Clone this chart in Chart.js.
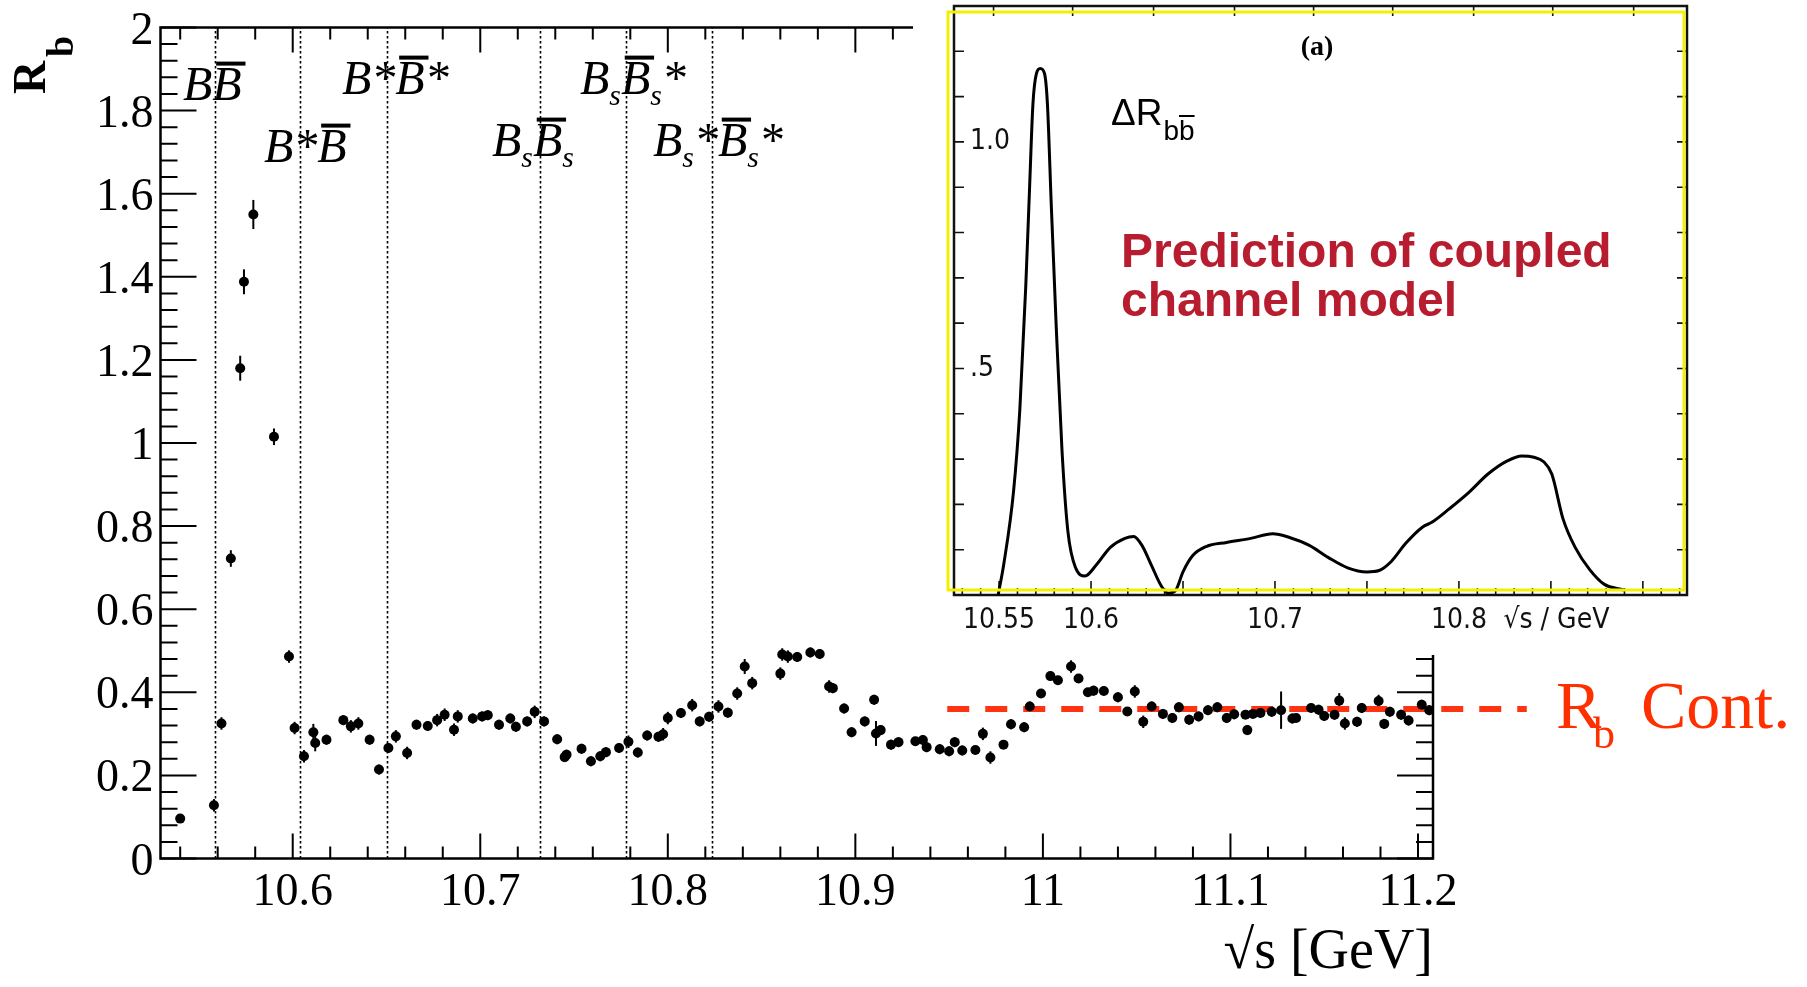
<!DOCTYPE html>
<html>
<head>
<meta charset="utf-8">
<script src="https://cdn.jsdelivr.net/npm/chart.js@4.4.1/dist/chart.umd.min.js"></script>
<style>
  html, body { margin: 0; padding: 0; background: #fff; }
  #wrap { position: relative; width: 1807px; height: 987px; overflow: hidden; }
  #mainChart { position: absolute; left: 0; top: 0; }
  #insetChart { position: absolute; left: 913px; top: 0; background: #fff; }
</style>
</head>
<body>
<div id="wrap">
  <canvas id="mainChart" width="1807" height="987"></canvas>
  <canvas id="insetChart" width="787" height="655"></canvas>
</div>
<script>
// measured R_b scan
const energies = [
  10.540, 10.558, 10.562, 10.567, 10.572, 10.574, 10.579, 10.590, 10.598, 10.601,
  10.606, 10.611, 10.612, 10.618, 10.627, 10.631, 10.635, 10.641, 10.646, 10.651,
  10.655, 10.661, 10.666, 10.672, 10.677, 10.681, 10.686, 10.688, 10.696, 10.701,
  10.704, 10.710, 10.716, 10.719, 10.725, 10.729, 10.734, 10.741, 10.745, 10.746,
  10.754, 10.759, 10.764, 10.767, 10.774, 10.779, 10.784, 10.789, 10.795, 10.7975,
  10.800, 10.807, 10.813, 10.817, 10.822, 10.827, 10.832, 10.837, 10.841, 10.845,
  10.860, 10.861, 10.864, 10.869, 10.876, 10.881, 10.886, 10.888, 10.894, 10.898,
  10.905, 10.910, 10.911, 10.9135, 10.919, 10.923, 10.932, 10.936, 10.938, 10.945,
  10.950, 10.953, 10.957, 10.964, 10.968, 10.972, 10.979, 10.983, 10.990, 10.993,
  10.999, 11.004, 11.008, 11.015, 11.019, 11.024, 11.027, 11.0325, 11.040, 11.045,
  11.049, 11.0535, 11.058, 11.064, 11.069, 11.0725, 11.078, 11.083, 11.088, 11.093,
  11.098, 11.102, 11.108, 11.109, 11.112, 11.116, 11.122, 11.127, 11.133, 11.135,
  11.143, 11.147, 11.150, 11.1555, 11.158, 11.161, 11.1675, 11.170, 11.179, 11.182,
  11.185, 11.191, 11.195, 11.202, 11.206
];
const rb = [
  0.096, 0.128, 0.325, 0.722, 1.180, 1.388, 1.550, 1.015, 0.486, 0.314,
  0.246, 0.304, 0.278, 0.286, 0.333, 0.318, 0.325, 0.286, 0.214, 0.266,
  0.294, 0.254, 0.322, 0.319, 0.333, 0.346, 0.310, 0.342, 0.337, 0.342,
  0.345, 0.322, 0.337, 0.317, 0.330, 0.353, 0.330, 0.287, 0.244, 0.250,
  0.264, 0.234, 0.246, 0.256, 0.266, 0.281, 0.255, 0.296, 0.293, 0.299,
  0.338, 0.350, 0.369, 0.330, 0.341, 0.366, 0.351, 0.397, 0.462, 0.422,
  0.445, 0.491, 0.486, 0.485, 0.496, 0.492, 0.414, 0.410, 0.361, 0.304,
  0.330, 0.382, 0.301, 0.309, 0.274, 0.280, 0.282, 0.285, 0.268, 0.263,
  0.258, 0.280, 0.260, 0.261, 0.300, 0.243, 0.274, 0.323, 0.316, 0.366,
  0.397, 0.439, 0.429, 0.462, 0.433, 0.400, 0.404, 0.403, 0.388, 0.354,
  0.402, 0.329, 0.366, 0.348, 0.338, 0.364, 0.334, 0.342, 0.357, 0.364,
  0.338, 0.347, 0.346, 0.309, 0.348, 0.350, 0.353, 0.357, 0.337, 0.338,
  0.362, 0.358, 0.343, 0.346, 0.380, 0.325, 0.329, 0.362, 0.379, 0.324,
  0.353, 0.346, 0.332, 0.370, 0.357
];
const rbErr = [
  0.008, 0.015, 0.015, 0.020, 0.030, 0.030, 0.035, 0.020, 0.015, 0.015,
  0.015, 0.020, 0.020, 0.012, 0.012, 0.015, 0.015, 0.012, 0.012, 0.012,
  0.015, 0.015, 0.012, 0.012, 0.015, 0.015, 0.015, 0.015, 0.012, 0.012,
  0.012, 0.012, 0.012, 0.012, 0.012, 0.015, 0.012, 0.012, 0.012, 0.012,
  0.012, 0.012, 0.012, 0.012, 0.012, 0.015, 0.012, 0.012, 0.012, 0.015,
  0.015, 0.012, 0.015, 0.012, 0.012, 0.015, 0.012, 0.015, 0.018, 0.015,
  0.015, 0.015, 0.015, 0.012, 0.012, 0.012, 0.015, 0.012, 0.012, 0.012,
  0.012, 0.012, 0.030, 0.012, 0.012, 0.012, 0.010, 0.012, 0.012, 0.012,
  0.012, 0.012, 0.012, 0.010, 0.015, 0.015, 0.010, 0.012, 0.012, 0.012,
  0.010, 0.010, 0.010, 0.015, 0.010, 0.010, 0.012, 0.010, 0.012, 0.010,
  0.015, 0.015, 0.012, 0.012, 0.012, 0.012, 0.012, 0.012, 0.012, 0.012,
  0.012, 0.012, 0.010, 0.012, 0.010, 0.010, 0.012, 0.045, 0.012, 0.010,
  0.010, 0.012, 0.012, 0.012, 0.018, 0.015, 0.012, 0.012, 0.015, 0.012,
  0.012, 0.012, 0.012, 0.012, 0.012
];
const xTicks = [10.6, 10.7, 10.8, 10.9, 11.0, 11.1, 11.2];
const yTicks = [0, 0.2, 0.4, 0.6, 0.8, 1.0, 1.2, 1.4, 1.6, 1.8, 2.0];
const thresholds = [10.5586, 10.6041, 10.6501, 10.7318, 10.7776, 10.8236];
const contLevel = 0.36;
const contRange = [10.949, 11.258];

// coupled channel prediction (inset)
const insetX = [
  10.5495, 10.5526, 10.5579, 10.5613, 10.5645, 10.5666, 10.5684, 10.5703, 10.5724, 10.5747,
  10.5763, 10.5784, 10.5811, 10.5842, 10.5874, 10.5916, 10.5968, 10.6026, 10.6105, 10.6184,
  10.6232, 10.6276, 10.6329, 10.6382, 10.6421, 10.6461, 10.6500, 10.6553, 10.6626, 10.6737,
  10.6868, 10.6987, 10.7079, 10.7184, 10.7289, 10.7395, 10.7500, 10.7566, 10.7632, 10.7711,
  10.7803, 10.7855, 10.7947, 10.8053, 10.8158, 10.8263, 10.8342, 10.8408, 10.8461, 10.8505,
  10.8566, 10.8632, 10.8711, 10.8789, 10.8895
];
const insetY = [
  0.000, 0.069, 0.230, 0.410, 0.680, 0.900, 1.083, 1.151, 1.162, 1.151,
  1.083, 0.859, 0.590, 0.320, 0.141, 0.060, 0.042, 0.065, 0.105, 0.125,
  0.129, 0.110, 0.065, 0.020, 0.004, 0.011, 0.051, 0.087, 0.107, 0.116,
  0.125, 0.135, 0.127, 0.110, 0.083, 0.060, 0.051, 0.054, 0.074, 0.114,
  0.150, 0.161, 0.190, 0.226, 0.267, 0.296, 0.307, 0.304, 0.294, 0.267,
  0.168, 0.105, 0.056, 0.024, 0.011
];
const insetXTicks = [10.55, 10.6, 10.7, 10.8, 10.853];
const insetXTickLabels = ['10.55', '10.6', '10.7', '10.8', '√s / GeV'];
const insetYTicks = [0.5, 1.0];
const insetYTickLabels = ['.5', '1.0'];
const insetTopTicks = [10.547, 10.590, 10.634, 10.678, 10.721, 10.764, 10.808, 10.851, 10.895];

const serif = "'Liberation Serif', 'Times New Roman', serif";
const sans = "'Liberation Sans', Arial, sans-serif";
const narrow = "'Liberation Sans Narrow', 'DejaVu Sans Condensed', 'Liberation Sans', sans-serif";
const fmt = v => String(Math.round(v * 10) / 10);

// no automatic edge padding from the axes, chart area follows layout.padding
const noPad = s => { s.paddingTop = 0; s.paddingBottom = 0; s.paddingLeft = 0; s.paddingRight = 0; };

// draw a label made of pieces: plain, subscript, overlined
function drawRich(ctx, x, y, segs, size, style) {
  segs.forEach(s => {
    const fs = s.sub ? size * 0.62 : size;
    ctx.font = `${style} ${fs}px ${serif}`;
    const dy = s.sub ? size * 0.22 : 0;
    ctx.fillText(s.t, x, y + dy);
    const w = ctx.measureText(s.t).width;
    if (s.bar) ctx.fillRect(x + size * 0.08, y - size * 0.8, w, 4);
    x += w;
  });
}

const thresholdLabels = [
  { x: 183, y: 100, segs: [{t: 'B'}, {t: 'B', bar: 1}] },
  { x: 264, y: 162, segs: [{t: 'B*'}, {t: 'B', bar: 1}] },
  { x: 342, y: 94, segs: [{t: 'B*'}, {t: 'B', bar: 1}, {t: '*'}] },
  { x: 492, y: 156, segs: [{t: 'B'}, {t: 's', sub: 1}, {t: 'B', bar: 1}, {t: 's', sub: 1}] },
  { x: 580, y: 94, segs: [{t: 'B'}, {t: 's', sub: 1}, {t: 'B', bar: 1}, {t: 's', sub: 1}, {t: '*'}] },
  { x: 653, y: 156, segs: [{t: 'B'}, {t: 's', sub: 1}, {t: '*'}, {t: 'B', bar: 1}, {t: 's', sub: 1}, {t: '*'}] }
];

const rootFrame = {
  id: 'rootFrame',
  beforeDatasetsDraw(chart) {
    const {ctx, chartArea: a, scales: {x, y}} = chart;
    ctx.save();
    // threshold lines
    ctx.strokeStyle = '#000';
    ctx.lineWidth = 1.6;
    ctx.setLineDash([2.5, 2.5]);
    thresholds.forEach(t => {
      const px = Math.round(x.getPixelForValue(t)) + 0.5;
      ctx.beginPath();
      ctx.moveTo(px, y.getPixelForValue(0));
      ctx.lineTo(px, y.getPixelForValue(2));
      ctx.stroke();
    });
    ctx.setLineDash([]);
    // frame
    ctx.lineWidth = 2.5;
    ctx.strokeRect(a.left, a.top, a.right - a.left, a.bottom - a.top);
    // ticks on x (bottom up, top down)
    ctx.lineWidth = 2;
    for (let k = 527; k <= 560; k++) {
      const px = x.getPixelForValue(k * 0.02);
      const len = k % 5 === 0 ? 25 : 12;
      ctx.beginPath();
      ctx.moveTo(px, a.bottom); ctx.lineTo(px, a.bottom - len);
      ctx.moveTo(px, a.top); ctx.lineTo(px, a.top + len);
      ctx.stroke();
    }
    // ticks on y (left and right, inward)
    for (let k = 0; k <= 50; k++) {
      const py = y.getPixelForValue(k * 0.04);
      const len = k % 5 === 0 ? 36 : 17;
      ctx.beginPath();
      ctx.moveTo(a.left, py); ctx.lineTo(a.left + len, py);
      ctx.moveTo(a.right, py); ctx.lineTo(a.right - len, py);
      ctx.stroke();
    }
    // error bars
    ctx.lineWidth = 2;
    energies.forEach((e, i) => {
      const px = x.getPixelForValue(e);
      ctx.beginPath();
      ctx.moveTo(px, y.getPixelForValue(rb[i] - rbErr[i]));
      ctx.lineTo(px, y.getPixelForValue(rb[i] + rbErr[i]));
      ctx.stroke();
    });
    ctx.restore();
  },
  afterDraw(chart) {
    const {ctx} = chart;
    ctx.save();
    ctx.fillStyle = '#000';
    ctx.textBaseline = 'alphabetic';
    ctx.textAlign = 'left';
    thresholdLabels.forEach(l => drawRich(ctx, l.x, l.y, l.segs, 48, 'italic'));
    // y title R_b, rotated
    ctx.translate(45, 94);
    ctx.rotate(-Math.PI / 2);
    ctx.font = `bold 46px ${serif}`;
    ctx.fillText('R', 0, 0);
    ctx.font = `bold 38px ${serif}`;
    ctx.fillText('b', 37, 28);
    ctx.setTransform(1, 0, 0, 1, 0, 0);
    // continuum label
    ctx.fillStyle = '#ff3000';
    ctx.font = `68px ${serif}`;
    ctx.fillText('R', 1556, 728);
    ctx.font = `44px ${serif}`;
    ctx.fillText('b', 1593, 748);
    ctx.font = `68px ${serif}`;
    ctx.fillText('Cont.', 1641, 728);
    ctx.restore();
  }
};

new Chart(document.getElementById('mainChart'), {
  type: 'scatter',
  data: {
    datasets: [{
      data: energies.map((e, i) => ({x: e, y: rb[i]})),
      backgroundColor: '#000',
      borderWidth: 0,
      pointRadius: 5,
      pointHoverRadius: 5
    }, {
      data: contRange.map(e => ({x: e, y: contLevel})),
      showLine: true,
      borderColor: '#ff3311',
      borderWidth: 6,
      borderDash: [22, 16],
      pointRadius: 0,
      clip: false
    }]
  },
  options: {
    responsive: false,
    animation: false,
    devicePixelRatio: 1,
    layout: { padding: { left: 0, top: 27.5, right: 374, bottom: 0 } },
    plugins: { legend: { display: false }, tooltip: { enabled: false } },
    scales: {
      x: {
        type: 'linear', min: 10.5295, max: 11.208,
        afterBuildTicks: s => { s.ticks = xTicks.map(v => ({value: v})); },
        afterFit: s => { s.height = 987 - 858.5; noPad(s); },
        grid: { display: false, drawTicks: false },
        border: { display: false },
        ticks: {
          callback: v => fmt(v), color: '#000', padding: 7,
          maxRotation: 0, autoSkip: false,
          font: { family: serif, size: 46 }
        },
        title: {
          display: true, text: '√s [GeV]', align: 'end', color: '#000',
          padding: 0, font: { family: serif, size: 56 }
        }
      },
      y: {
        min: 0, max: 2,
        afterBuildTicks: s => { s.ticks = yTicks.map(v => ({value: v})); },
        afterFit: s => { s.width = 160.5; noPad(s); },
        grid: { display: false, drawTicks: false },
        border: { display: false },
        ticks: {
          callback: v => fmt(v), color: '#000', padding: 7, labelOffset: 4,
          font: { family: serif, size: 46 }
        }
      }
    }
  },
  plugins: [rootFrame]
});

// inset: prediction of coupled channel model
const insetFrame = {
  id: 'insetFrame',
  beforeDatasetsDraw(chart) {
    const {ctx, chartArea: a, scales: {x, y}} = chart;
    ctx.save();
    ctx.strokeStyle = '#111';
    ctx.lineWidth = 2.5;
    ctx.strokeRect(a.left, a.top, a.right - a.left, a.bottom - a.top);
    ctx.lineWidth = 1.6;
    for (let k = 1053; k <= 1092; k++) {
      const px = x.getPixelForValue(k * 0.01);
      const len = k % 5 === 0 ? 14 : 7;
      ctx.beginPath(); ctx.moveTo(px, a.bottom); ctx.lineTo(px, a.bottom - len); ctx.stroke();
    }
    insetTopTicks.forEach(t => {
      const px = x.getPixelForValue(t);
      ctx.beginPath(); ctx.moveTo(px, a.top); ctx.lineTo(px, a.top + 10); ctx.stroke();
    });
    for (let k = 1; k <= 12; k++) {
      const py = y.getPixelForValue(k * 0.1);
      ctx.beginPath();
      ctx.moveTo(a.left, py); ctx.lineTo(a.left + 10, py);
      ctx.moveTo(a.right, py); ctx.lineTo(a.right - 10, py);
      ctx.stroke();
    }
    ctx.restore();
  },
  afterDraw(chart) {
    const {ctx} = chart;
    ctx.save();
    ctx.strokeStyle = '#f2f000';
    ctx.lineWidth = 3;
    ctx.strokeRect(35, 12, 736, 578);
    ctx.fillStyle = '#000';
    ctx.textAlign = 'center';
    ctx.textBaseline = 'middle';
    ctx.font = `bold 28px ${serif}`;
    ctx.fillText('(a)', 404, 48);
    ctx.textAlign = 'left';
    ctx.textBaseline = 'alphabetic';
    ctx.font = `37px ${sans}`;
    ctx.fillText('ΔR', 198, 125);
    const w = ctx.measureText('ΔR').width;
    ctx.font = `28px ${sans}`;
    ctx.fillText('bb', 198 + w + 1, 140);
    const wb = ctx.measureText('b').width;
    ctx.fillRect(198 + w + 1 + wb, 115, wb, 2);
    ctx.fillStyle = '#b81d2f';
    ctx.font = `bold 48px ${sans}`;
    ctx.fillText('Prediction of coupled', 208, 267);
    ctx.fillText('channel model', 208, 316);
    ctx.restore();
  }
};

new Chart(document.getElementById('insetChart'), {
  type: 'line',
  data: {
    labels: insetX,
    datasets: [{
      data: insetX.map((e, i) => ({x: e, y: insetY[i]})),
      borderColor: '#000',
      borderWidth: 3,
      pointRadius: 0,
      cubicInterpolationMode: 'monotone',
      fill: false
    }]
  },
  options: {
    responsive: false,
    animation: false,
    devicePixelRatio: 1,
    layout: { padding: { left: 0, top: 6, right: 13, bottom: 0 } },
    plugins: { legend: { display: false }, tooltip: { enabled: false } },
    scales: {
      x: {
        type: 'linear', min: 10.5255, max: 10.924,
        afterBuildTicks: s => { s.ticks = insetXTicks.map(v => ({value: v})); },
        afterFit: s => { s.height = 60; noPad(s); },
        grid: { display: false, drawTicks: false },
        border: { display: false },
        ticks: {
          callback: (v, i) => insetXTickLabels[i], color: '#111', padding: 9,
          maxRotation: 0, autoSkip: false,
          font: { family: narrow, size: 28 }
        }
      },
      y: {
        min: 0, max: 1.3,
        afterBuildTicks: s => { s.ticks = insetYTicks.map(v => ({value: v})); },
        afterFit: s => { s.width = 41; noPad(s); },
        grid: { display: false, drawTicks: false },
        border: { display: false },
        ticks: {
          mirror: true, padding: 16,
          callback: (v, i) => insetYTickLabels[i], color: '#111',
          font: { family: narrow, size: 28 }
        }
      }
    }
  },
  plugins: [insetFrame]
});
</script>
</body>
</html>
